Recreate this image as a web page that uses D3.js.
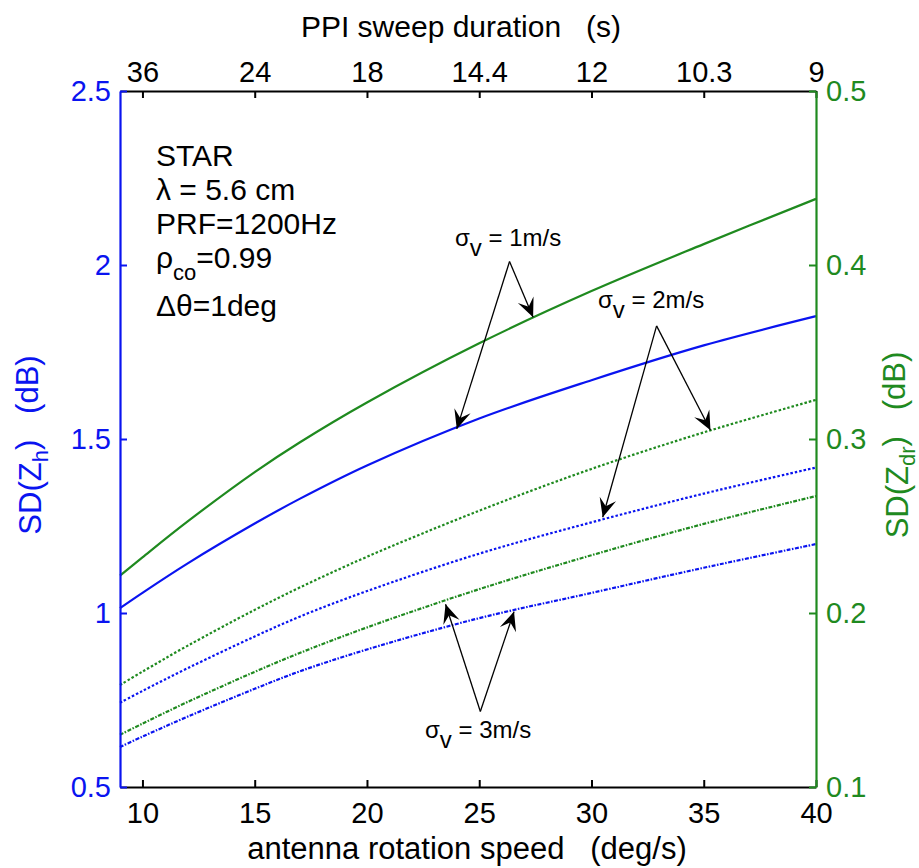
<html>
<head>
<script src="https://d3js.org/d3.v7.min.js"></script>
<style>
  body { margin: 0; background: #fff; }
  text { font-family: "Liberation Sans", Arial, sans-serif; white-space: pre; }
</style>
</head>
<body>
<script>

// values
var speed    = [9, 10, 12, 15, 17, 20, 25, 30, 35, 40];
var sdZh1    = [1.014, 1.058, 1.142, 1.257, 1.328, 1.424, 1.559, 1.669, 1.769, 1.853];
var sdZh2    = [0.742, 0.776, 0.841, 0.9325, 0.9895, 1.063, 1.1705, 1.2605, 1.343, 1.418];
var sdZh3    = [0.615, 0.6448, 0.7018, 0.7822, 0.8322, 0.8952, 0.9852, 1.0577, 1.13, 1.198];
var sdZdr1   = [0.2215, 0.232, 0.2525, 0.281, 0.298, 0.321, 0.355, 0.385, 0.412, 0.438];
var sdZdr2   = [0.1586, 0.1663, 0.1811, 0.2018, 0.2146, 0.2323, 0.2588, 0.2828, 0.3038, 0.3225];
var sdZdr3   = [0.130, 0.1364, 0.1488, 0.1662, 0.177, 0.1917, 0.2137, 0.2332, 0.2512, 0.2672];

var speedTicks    = [10, 15, 20, 25, 30, 35, 40];
var durationTicks = ["36", "24", "18", "14.4", "12", "10.3", "9"];
var zhTicks       = [0.5, 1, 1.5, 2, 2.5];
var zdrTicks      = [0.1, 0.2, 0.3, 0.4, 0.5];

var blue = "#0a14f0", green = "#1f8a1f";

var width = 919, height = 868;
var plot = {left: 120, right: 816, top: 91, bottom: 787};

var svg = d3.select("body").append("svg")
            .attr("width", width)
            .attr("height", height);

var x = d3.scaleLinear().domain([9, 40]).range([plot.left, plot.right]);
var yL = d3.scaleLinear().domain([0.5, 2.5]).range([plot.bottom, plot.top]);
var yR = d3.scaleLinear().domain([0.1, 0.5]).range([plot.bottom, plot.top]);

// curves
var series = [
  {v: sdZh1,  y: yL, color: blue,  dash: null},
  {v: sdZdr1, y: yR, color: green, dash: null},
  {v: sdZdr2, y: yR, color: green, dash: "2.5,2"},
  {v: sdZh2,  y: yL, color: blue,  dash: "2.5,2"},
  {v: sdZdr3, y: yR, color: green, dash: "4,1.5,1.5,1.5"},
  {v: sdZh3,  y: yL, color: blue,  dash: "4,1.5,1.5,1.5"}
];

series.forEach(function(s) {
  var line = d3.line()
      .x(function(d, i) { return x(speed[i]); })
      .y(function(d) { return s.y(d); })
      .curve(d3.curveCatmullRom.alpha(0.5));
  svg.append("path")
     .attr("d", line(s.v))
     .attr("fill", "none")
     .attr("stroke", s.color)
     .attr("stroke-width", 2.2)
     .attr("stroke-dasharray", s.dash);
});

// axes
var fmt = function(d) { return String(d); };

var bottomAxis = svg.append("g")
   .attr("transform", "translate(0," + plot.bottom + ")")
   .call(d3.axisBottom(x).tickValues(speedTicks).tickFormat(fmt)
           .tickSizeInner(-7).tickSizeOuter(0).tickPadding(15));

var topAxis = svg.append("g")
   .attr("transform", "translate(0," + plot.top + ")")
   .call(d3.axisTop(x).tickValues(speedTicks)
           .tickFormat(function(d, i) { return durationTicks[i]; })
           .tickSizeInner(-7).tickSizeOuter(0).tickPadding(9));

var leftAxis = svg.append("g")
   .attr("transform", "translate(" + plot.left + ",0)")
   .call(d3.axisLeft(yL).tickValues(zhTicks).tickFormat(fmt)
           .tickSizeInner(-7).tickSizeOuter(0).tickPadding(9));

var rightAxis = svg.append("g")
   .attr("transform", "translate(" + plot.right + ",0)")
   .call(d3.axisRight(yR).tickValues(zdrTicks).tickFormat(fmt)
           .tickSizeInner(-7).tickSizeOuter(0).tickPadding(10));

[[bottomAxis, "#000"], [topAxis, "#000"], [leftAxis, blue], [rightAxis, green]].forEach(function(a) {
  a[0].selectAll("path").attr("stroke", a[1]).attr("stroke-width", 2.2);
  a[0].selectAll("line").attr("stroke", a[1]).attr("stroke-width", 2);
  a[0].selectAll("text").attr("fill", a[1]).style("font-size", "29px")
      .style("font-family", "'Liberation Sans', Arial, sans-serif");
});

// axis titles
svg.append("text")
   .attr("x", 467).attr("y", 859)
   .attr("text-anchor", "middle")
   .style("font-size", "31px")
   .text("antenna rotation speed   (deg/s)");

svg.append("text")
   .attr("x", 461).attr("y", 37)
   .attr("text-anchor", "middle")
   .style("font-size", "30px")
   .text("PPI sweep duration   (s)");

function subTitle(tx, ty, main, sub, rest, color) {
  var t = svg.append("text")
     .attr("transform", "translate(" + tx + "," + ty + ") rotate(-90)")
     .attr("text-anchor", "middle")
     .attr("fill", color)
     .style("font-size", "31px");
  t.append("tspan").text(main);
  t.append("tspan").attr("dy", "0.32em").style("font-size", "22px").text(sub);
  t.append("tspan").attr("dy", "-0.32em").text(rest);
}
subTitle(41, 445, "SD(Z", "h", ")   (dB)", blue);
subTitle(908, 445, "SD(Z", "dr", ")   (dB)", green);

// info block
var info = svg.append("g").style("font-size", "30px");
info.append("text").attr("x", 156).attr("y", 166).text("STAR");
info.append("text").attr("x", 156).attr("y", 200).text("\u03bb = 5.6 cm");
info.append("text").attr("x", 156).attr("y", 234).text("PRF=1200Hz");
var rho = info.append("text").attr("x", 156).attr("y", 268);
rho.append("tspan").text("\u03c1");
rho.append("tspan").attr("dy", 12).style("font-size", "22px").text("co");
rho.append("tspan").attr("dy", -12).text("=0.99");
info.append("text").attr("x", 156).attr("y", 316).text("\u0394\u03b8=1deg");

// sigma annotations: label position, arrow start, and arrow tips (speed, value, axis)
var notes = [
  {label: "1m/s", lx: 455, ly: 246, from: [26.35, 2.01],
   tips: [[24.0, 1.529, yL], [27.4, 0.370, yR]]},
  {label: "2m/s", lx: 598, ly: 308, from: [32.9, 1.825],
   tips: [[30.5, 1.275, yL], [35.3, 0.305, yR]]},
  {label: "3m/s", lx: 425, ly: 738, from: [25.05, 0.717],
   tips: [[23.5, 0.205, yR], [26.55, 1.004, yL]]}
];

function arrowHead(x0, y0, x1, y1) {
  var a = Math.atan2(y1 - y0, x1 - x0), L = 19, W = 8.5;
  var pts = [[0, 0], [-L, -W], [-L * 0.6, 0], [-L, W]].map(function(p) {
    return [x1 + p[0] * Math.cos(a) - p[1] * Math.sin(a),
            y1 + p[0] * Math.sin(a) + p[1] * Math.cos(a)];
  });
  return "M" + pts.join("L") + "Z";
}

notes.forEach(function(n) {
  var t = svg.append("text").attr("x", n.lx).attr("y", n.ly).style("font-size", "24px");
  t.append("tspan").text("\u03c3");
  t.append("tspan").attr("dy", 10).text("v");
  t.append("tspan").attr("dy", -10).text(" = " + n.label);

  var sx = x(n.from[0]), sy = yL(n.from[1]);
  n.tips.forEach(function(tp) {
    var tx = x(tp[0]), ty = tp[2](tp[1]);
    svg.append("line")
       .attr("x1", sx).attr("y1", sy).attr("x2", tx).attr("y2", ty)
       .attr("stroke", "#000").attr("stroke-width", 1.3);
    svg.append("path").attr("d", arrowHead(sx, sy, tx, ty)).attr("fill", "#000");
  });
});

</script>
</body>
</html>
